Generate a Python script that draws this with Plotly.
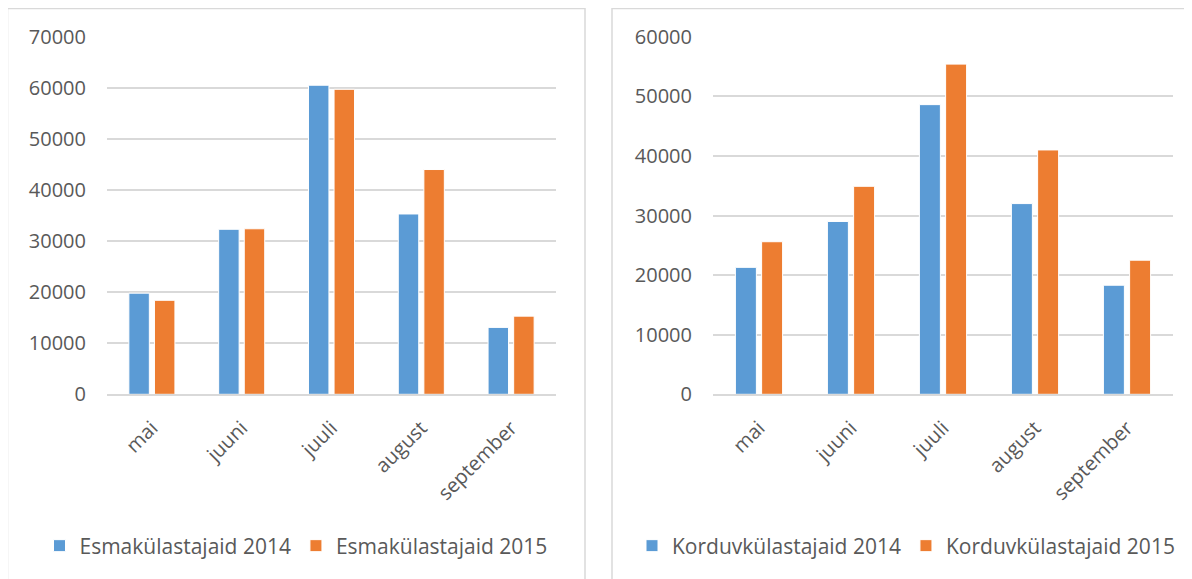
import plotly.graph_objects as go

months = ["mai", "juuni", "juuli", "august", "september"]
esma_2014 = [19800, 32300, 60500, 35300, 13100]
esma_2015 = [18400, 32400, 59700, 44000, 15300]
kord_2014 = [21300, 29000, 48600, 32000, 18300]
kord_2015 = [25600, 34900, 55400, 41000, 22500]

# page body has an 8px margin, so the figure is offset by 8px
OFF = 8
W, H = 1192 - OFF, 579 - OFF
BLUE = "#5B9BD5"
ORANGE = "#ED7D31"
GRID = "#D9D9D9"
TXT = "#595959"
FONT = "Open Sans"


def fx(p):
    return (p - OFF) / W


def fy(p):
    return 1 - (p - OFF) / H


fig = go.Figure()
fig.add_trace(go.Bar(x=months, y=esma_2014, name="Esmakülastajaid 2014",
                     marker=dict(color=BLUE, line=dict(color="white", width=1)),
                     xaxis="x", yaxis="y", legend="legend"))
fig.add_trace(go.Bar(x=months, y=esma_2015, name="Esmakülastajaid 2015",
                     marker=dict(color=ORANGE, line=dict(color="white", width=1)),
                     xaxis="x", yaxis="y", legend="legend"))
fig.add_trace(go.Bar(x=months, y=kord_2014, name="Korduvkülastajaid 2014",
                     marker=dict(color=BLUE, line=dict(color="white", width=1)),
                     xaxis="x2", yaxis="y2", legend="legend2"))
fig.add_trace(go.Bar(x=months, y=kord_2015, name="Korduvkülastajaid 2015",
                     marker=dict(color=ORANGE, line=dict(color="white", width=1)),
                     xaxis="x2", yaxis="y2", legend="legend2"))

xcommon = dict(showline=True, linecolor=GRID, linewidth=2, ticks="",
               tickangle=-45, tickfont=dict(family=FONT, size=20, color=TXT),
               showgrid=False, ticklabelstandoff=12, fixedrange=True,
               automargin=False)
ycommon = dict(showgrid=True, gridcolor=GRID, gridwidth=2, zeroline=False,
               tickformat="d", dtick=10000, ticks="",
               tickfont=dict(family=FONT, size=20, color=TXT),
               ticklabelstandoff=20, fixedrange=True, automargin=False)

legcommon = dict(orientation="h", yanchor="middle", xanchor="center",
                 font=dict(family=FONT, size=21, color=TXT),
                 bgcolor="rgba(0,0,0,0)", itemclick=False)

fig.update_layout(
    width=W, height=H,
    margin=dict(l=0, r=0, t=0, b=0, autoexpand=False),
    paper_bgcolor="white", plot_bgcolor="white",
    font=dict(family=FONT, color=TXT),
    barmode="group", bargap=0.43, bargroupgap=0.2,
    xaxis=dict(domain=[fx(107), fx(556)], anchor="y", **xcommon),
    yaxis=dict(domain=[fy(394.3), fy(36.7)], anchor="x", range=[0, 70000], **ycommon),
    xaxis2=dict(domain=[fx(713), fx(1173)], anchor="y2", **xcommon),
    yaxis2=dict(domain=[fy(394.3), fy(36.7)], anchor="x2", range=[0, 60000], **ycommon),
    legend=dict(x=fx(296), y=fy(546), **legcommon),
    legend2=dict(x=fx(906), y=fy(546), **legcommon),
    shapes=[
        dict(type="rect", xref="paper", yref="paper", x0=fx(7.5), x1=fx(585),
             y0=-0.05, y1=fy(8.5), line=dict(color=GRID, width=1.5), layer="above"),
        dict(type="rect", xref="paper", yref="paper", x0=fx(612), x1=fx(1185),
             y0=-0.05, y1=fy(8.5), line=dict(color=GRID, width=1.5), layer="above"),
    ],
)

fig.write_html("out.html")
